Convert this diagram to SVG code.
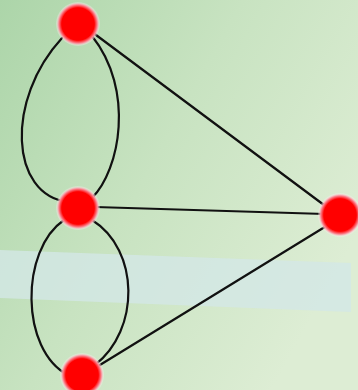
<svg xmlns="http://www.w3.org/2000/svg" width="358" height="390" viewBox="0 0 358 390">
<defs>
<linearGradient id="bg" x1="0" y1="0" x2="1" y2="0.6">
<stop offset="0" stop-color="#acd5a9"/>
<stop offset="0.5" stop-color="#c8e3c1"/>
<stop offset="1" stop-color="#ddedd4"/>
</linearGradient>
<radialGradient id="nodeFill">
<stop offset="0" stop-color="#ff0000"/>
<stop offset="0.74" stop-color="#ff0000"/>
<stop offset="0.88" stop-color="#fb8a96"/>
<stop offset="1" stop-color="#ffffff" stop-opacity="0.2"/>
</radialGradient>
<style>
.edge{fill:none;stroke:#111;stroke-width:2.2;stroke-linecap:round}
.node{fill:url(#nodeFill)}
</style>
</defs>
<rect width="358" height="390" fill="url(#bg)"/>
<polygon points="0,250 351,263 351,312 0,298" fill="#d3e7e6" opacity="0.8"/>
<g id="connectors">
<path class="edge" d="M62 38 C5 100,10 195,68 202"/>
<path class="edge" d="M92 36 C135 90,120 170,92 198"/>
<path class="edge" d="M64 220 C20 250,20 350,68 375"/>
<path class="edge" d="M92 220 C140 250,140 330,95 365"/>
<path class="edge" d="M92 32 L328 208"/>
<path class="edge" d="M95 207 L325 214"/>
<path class="edge" d="M95 368 L328 225"/>
</g>
<g id="node-top"><circle class="node" cx="78" cy="24" r="22"/></g>
<g id="node-middle"><circle class="node" cx="78" cy="208" r="22"/></g>
<g id="node-right"><circle class="node" cx="340" cy="215" r="22"/></g>
<g id="node-bottom"><circle class="node" cx="82" cy="375" r="22"/></g>
</svg>
